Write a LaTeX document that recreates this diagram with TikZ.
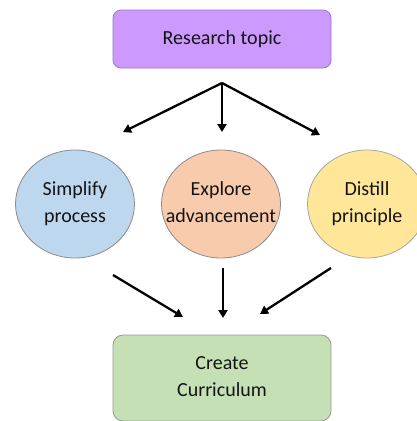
\documentclass[tikz,border=0pt]{standalone}
\usepackage{fontspec}
\setmainfont{Carlito}
\usetikzlibrary{shapes.geometric,arrows.meta}

\definecolor{topicfill}{HTML}{CC99FF}
\definecolor{topicline}{HTML}{9A78C8}
\definecolor{bluefill}{HTML}{BDD7EE}
\definecolor{orangefill}{HTML}{F8CBAD}
\definecolor{yellowfill}{HTML}{FFE699}
\definecolor{greenfill}{HTML}{C5E0B4}
\newcommand\ctrline[1]{\makebox[0pt]{\strut#1}}

\begin{document}
\begin{tikzpicture}[x=1pt,y=-1pt]
        \useasboundingbox (0,0) rectangle (416,421);

        \begin{scope}[every node/.style={draw, line width=.8pt, text=black!92,
            font=\fontsize{20}{27}\selectfont, align=center}]
          \node[rounded corners=8pt, fill=topicfill, draw=topicline,
            minimum width=218pt, minimum height=58pt] (topic) at (222,39) {Research topic};
          \node[ellipse, fill=bluefill, draw=black!45, inner sep=0pt,
            minimum width=119pt, minimum height=108pt] (simplify) at (75,204) {\ctrline{Simplify}\\\ctrline{process}};
          \node[ellipse, fill=orangefill, draw=black!45, inner sep=0pt,
            minimum width=119pt, minimum height=108pt] (explore) at (221,204) {\ctrline{Explore}\\\ctrline{advancement}};
          \node[ellipse, fill=yellowfill, draw=black!35, inner sep=0pt,
            minimum width=119pt, minimum height=108pt] (distill) at (367,204) {\ctrline{Distill}\\\ctrline{principle}};
          \node[rounded corners=10pt, fill=greenfill, draw=black!40,
            minimum width=218pt, minimum height=86pt] (curriculum) at (222,378) {\ctrline{Create}\\\ctrline{Curriculum}};
        \end{scope}

        \coordinate (fork) at (222,83);
        \coordinate (toleft) at (123,132);
        \coordinate (tomid) at (222,132);
        \coordinate (toright) at (320,135);
        \coordinate (fromleft) at (113,275);
        \coordinate (frommid) at (223,268);
        \coordinate (fromright) at (331,268);
        \coordinate (inleft) at (183,317);
        \coordinate (inmid) at (223,318);
        \coordinate (inright) at (260,314);

        \begin{scope}[every edge/.style={draw, line width=2.3pt,
            -{Triangle[length=8pt,width=9pt]}}]
          \path (fork) edge (toleft);
          \path (fork) edge (tomid);
          \path (fork) edge (toright);
          \path (fromleft) edge (inleft);
          \path (frommid) edge (inmid);
          \path (fromright) edge (inright);
        \end{scope}

      \end{tikzpicture}
\end{document}
